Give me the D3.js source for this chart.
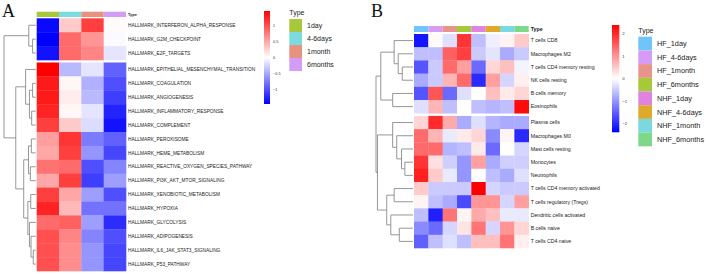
<!DOCTYPE html>
<html lang="en">
<head>
<meta charset="UTF-8">
<title>Heatmaps</title>
<script src="https://d3js.org/d3.v7.min.js"></script>
<style>
  body { margin: 0; background: #fff; font-family: "Liberation Sans", Arial, sans-serif; }
  svg { display: block; }
  .dendro path { fill: none; stroke: #8a8a8a; stroke-width: 0.9px; }
</style>
</head>
<body>
<script>
// ---------- panel A data ----------
const groupsA = ["1day", "4-6days", "1month", "6months"];
const groupColorsA = ["#a8c83c", "#7ddbe0", "#e8917f", "#d39cf7"];
const rowsA = [
  "HALLMARK_INTERFERON_ALPHA_RESPONSE", "HALLMARK_G2M_CHECKPOINT", "HALLMARK_E2F_TARGETS",
  "HALLMARK_EPITHELIAL_MESENCHYMAL_TRANSITION", "HALLMARK_COAGULATION", "HALLMARK_ANGIOGENESIS",
  "HALLMARK_INFLAMMATORY_RESPONSE", "HALLMARK_COMPLEMENT", "HALLMARK_PEROXISOME",
  "HALLMARK_HEME_METABOLISM", "HALLMARK_REACTIVE_OXYGEN_SPECIES_PATHWAY", "HALLMARK_PI3K_AKT_MTOR_SIGNALING",
  "HALLMARK_XENOBIOTIC_METABOLISM", "HALLMARK_HYPOXIA", "HALLMARK_GLYCOLYSIS",
  "HALLMARK_ADIPOGENESIS", "HALLMARK_IL6_JAK_STAT3_SIGNALING", "HALLMARK_P53_PATHWAY"
];
const valuesA = [
  [-1.40, 0.30, 1.10, 0.02],
  [-1.45, 0.85, 0.60, -0.03],
  [-1.35, 0.85, 0.70, -0.15],
  [1.45, -0.40, -0.15, -0.90],
  [1.30, 0.05, -0.45, -1.00],
  [1.30, 0.10, -0.40, -1.10],
  [1.25, 0.05, -0.15, -1.25],
  [1.10, 0.30, -0.20, -1.35],
  [0.55, 1.15, -0.75, -0.90],
  [0.50, 1.10, -0.60, -1.05],
  [0.80, 0.85, -1.00, -0.70],
  [0.50, 1.10, -1.10, -0.55],
  [1.10, 0.50, -0.55, -1.00],
  [1.25, 0.40, -0.80, -0.80],
  [0.85, 0.90, -0.55, -1.20],
  [1.00, 0.70, -0.70, -1.00],
  [1.00, 0.65, -0.60, -1.05],
  [1.00, 0.65, -0.60, -1.05]
];
// row tree: [height, left, right], leaves are row indices
const treeA = [10,
  [2.2, 0, [1.0, 1, 2]],
  [6.3,
    [3.2, 3, [2.0, [1.0, 4, 5], [1.3, 6, 7]]],
    [3.8, [2.3, [1.4, 8, 9], [1.7, 10, 11]], [2.5, [1.6, 12, 13], [2.0, 14, [1.5, 15, [0.8, 16, 17]]]]]
  ]
];
const splitA = 3;
const rangeA = [-1.45, 1.45];
const ticksA = [1, 0.5, 0, -0.5, -1];

// ---------- panel B data ----------
const groupsB = ["HF_1day", "HF_4-6days", "HF_1month", "HF_6months", "NHF_1day", "NHF_4-6days", "NHF_1month", "NHF_6months"];
const groupColorsB = ["#6fc4fb", "#d69bf5", "#e8948a", "#a6c93c", "#df82e0", "#ddaa2c", "#7ad9de", "#7dd88a"];
const rowsB = [
  "T cells CD8", "Macrophages M2", "T cells CD4 memory resting", "NK cells resting", "B cells memory",
  "Eosinophils", "Plasma cells", "Macrophages M0", "Mast cells resting", "Monocytes", "Neutrophils",
  "T cells CD4 memory activated", "T cells regulatory (Tregs)", "Dendritic cells activated",
  "B cells naive", "T cells CD4 naive"
];
const valuesB = [
  [-2.2, 0.05, -0.3, 1.9, -0.6, -0.15, 0.1, 0.5],
  [-0.6, -0.6, 1.5, 1.8, -0.5, -0.25, -0.8, -0.5],
  [-1.6, -0.5, 1.4, 0.9, -1.4, 0.4, 0.6, -0.1],
  [-0.8, -0.5, 0.7, 1.4, -2.0, 0.9, -0.4, 0.15],
  [-1.6, 1.6, -1.4, -0.3, 0.0, 0.6, 0.2, 0.4],
  [-0.3, 0.7, -0.6, 0.0, -0.6, -0.7, -0.6, 2.3],
  [0.4, 2.0, 0.8, -0.8, -0.3, -0.7, -0.8, -0.8],
  [1.4, 0.7, -0.2, 0.2, 0.4, -1.1, 0.1, -2.0],
  [1.4, 1.4, -0.7, -0.6, 0.2, -1.4, 0.0, -0.4],
  [1.9, 0.3, -0.45, -1.0, 0.9, -0.8, -0.45, -0.45],
  [2.1, 0.5, -0.2, -1.0, 0.0, -0.6, -0.8, -0.3],
  [0.5, -0.5, -0.5, -0.5, 2.4, -0.4, -0.5, -0.5],
  [0.1, -0.6, -0.8, -1.7, 1.0, 1.0, -0.4, 0.9],
  [-0.6, -2.1, 1.3, 0.1, 0.8, 0.6, -0.2, -0.2],
  [-1.1, -1.4, -0.4, 0.25, 1.3, -0.4, 1.0, 0.4],
  [-1.5, -0.6, -0.3, -0.6, 0.6, 0.6, 1.3, 0.15]
];
const treeB = [10,
  [8.7, [5.1, 0, [4.0, 1, [2.9, 2, 3]]], [5.5, 4, 5]],
  [9.6,
    [5.5, 6, [4.4, 7, [3.1, 8, [2.2, 9, 10]]]],
    [7.1, [5.1, 11, 12], [6.0, 13, [3.7, 14, 15]]]
  ]
];
const splitB = 6;
const rangeB = [-2.4, 2.4];
const ticksB = [2, 1, 0, -1, -2];

const W = 708, H = 274;
const svg = d3.select("body").append("svg").attr("width", W).attr("height", H);

function drawPanel(cfg) {
  const g = svg.append("g");
  const color = d3.scaleLinear()
    .domain([cfg.range[0], 0, cfg.range[1]])
    .range(["#0000ff", "#ffffff", "#ff0000"]);

  const x = d3.scaleBand().domain(d3.range(cfg.groups.length))
    .range([cfg.x0, cfg.x1]);
  const n = cfg.rows.length;
  const rowH = (cfg.y1 - cfg.y0 - cfg.gap) / n;
  const y = i => cfg.y0 + i * rowH + (i >= cfg.split ? cfg.gap : 0);

  // annotation bar
  g.append("g").selectAll("rect").data(cfg.groups).join("rect")
    .attr("x", (d, i) => x(i)).attr("width", x.bandwidth())
    .attr("y", cfg.annY).attr("height", cfg.annH)
    .attr("fill", (d, i) => cfg.groupColors[i]);
  g.append("text").attr("x", cfg.x1 + 2).attr("y", cfg.annY + cfg.annH / 2)
    .attr("dy", "0.35em").attr("font-size", cfg.typeSize).attr("font-weight", "bold")
    .attr("fill", "#222").text("Type");

  // cells
  const cells = cfg.values.flatMap((row, r) => row.map((v, c) => ({ r, c, v })));
  g.append("g").selectAll("rect").data(cells).join("rect")
    .attr("x", d => x(d.c)).attr("width", x.bandwidth() + 0.3)
    .attr("y", d => y(d.r)).attr("height", rowH + 0.3)
    .attr("fill", d => color(d.v));

  // row labels
  g.append("g").selectAll("text").data(cfg.rows).join("text")
    .attr("x", cfg.x1 + 2).attr("y", (d, i) => y(i) + rowH / 2)
    .attr("dy", "0.35em").attr("font-size", cfg.labelSize).attr("fill", "#222")
    .text(d => d);

  // dendrogram
  const maxH = cfg.tree[0];
  const hx = d3.scaleLinear().domain([0, maxH]).range([cfg.leafX, cfg.rootX]);
  const dg = g.append("g").attr("class", "dendro");
  function walk(node) {
    if (typeof node === "number") return { x: cfg.leafX, y: y(node) + rowH / 2 };
    const a = walk(node[1]), b = walk(node[2]);
    const nx = hx(node[0]);
    dg.append("path").attr("d", `M${a.x},${a.y}H${nx}V${b.y}H${b.x}`);
    return { x: nx, y: (a.y + b.y) / 2 };
  }
  walk(cfg.tree);

  // colour bar legend
  const gradId = "grad" + cfg.id;
  const grad = svg.append("defs").append("linearGradient").attr("id", gradId)
    .attr("x1", 0).attr("x2", 0).attr("y1", 1).attr("y2", 0);
  d3.range(0, 1.0001, 0.1).forEach(t => {
    grad.append("stop").attr("offset", t)
      .attr("stop-color", color(cfg.range[0] + t * (cfg.range[1] - cfg.range[0])));
  });
  const ly = d3.scaleLinear().domain(cfg.range).range([cfg.barY1, cfg.barY0]);
  g.append("rect").attr("x", cfg.barX).attr("y", cfg.barY0)
    .attr("width", cfg.barW).attr("height", cfg.barY1 - cfg.barY0)
    .attr("fill", `url(#${gradId})`);
  g.append("g").selectAll("text").data(cfg.ticks).join("text")
    .attr("x", cfg.barX + cfg.barW + 3).attr("y", d => ly(d)).attr("dy", "0.35em")
    .attr("font-size", cfg.tickSize).attr("fill", "#333")
    .text(d => d3.format("")(d).replace("-", "\u2212"));

  // type legend
  g.append("text").attr("x", cfg.legX).attr("y", cfg.legY - 6).attr("dy", "0.35em")
    .attr("font-size", cfg.legTitleSize).attr("fill", "#222").text("Type");
  const lg = g.append("g").selectAll("g").data(cfg.groups).join("g")
    .attr("transform", (d, i) => `translate(${cfg.legX},${cfg.legY + i * cfg.legStep})`);
  lg.append("rect").attr("width", cfg.legW).attr("height", cfg.legStep)
    .attr("fill", (d, i) => cfg.groupColors[i]);
  lg.append("text").attr("x", cfg.legW + 5).attr("y", cfg.legStep / 2).attr("dy", "0.35em")
    .attr("font-size", cfg.legSize).attr("fill", "#222").text(d => d);

  // panel letter
  svg.append("text").attr("x", cfg.letterX).attr("y", 17)
    .attr("font-family", "'Liberation Serif', 'Times New Roman', serif")
    .attr("font-size", 18).attr("fill", "#111").text(cfg.letter);
}

drawPanel({
  id: "A", letter: "A", letterX: 2,
  groups: groupsA, groupColors: groupColorsA, rows: rowsA, values: valuesA,
  tree: treeA, split: splitA, range: rangeA, ticks: ticksA,
  x0: 36.7, x1: 126, y0: 18.3, y1: 271, gap: 2.5,
  annY: 11.7, annH: 5.3, typeSize: 3.9, labelSize: 4.8,
  leafX: 35.8, rootX: 4,
  barX: 264, barW: 6, barY0: 11, barY1: 104, tickSize: 3.8,
  legX: 289.3, legY: 19, legStep: 13, legW: 12.7, legSize: 7, legTitleSize: 7
});

drawPanel({
  id: "B", letter: "B", letterX: 371,
  groups: groupsB, groupColors: groupColorsB, rows: rowsB, values: valuesB,
  tree: treeB, split: splitB, range: rangeB, ticks: ticksB,
  x0: 414, x1: 528.7, y0: 34, y1: 248, gap: 2.7,
  annY: 26, annH: 6, typeSize: 5.3, labelSize: 5.2,
  leafX: 413, rootX: 376,
  barX: 612, barW: 7.3, barY0: 25, barY1: 132.3, tickSize: 4.3,
  legX: 638.3, legY: 36.7, legStep: 13.7, legW: 13.7, legSize: 7.3, legTitleSize: 7
});
</script>
</body>
</html>
